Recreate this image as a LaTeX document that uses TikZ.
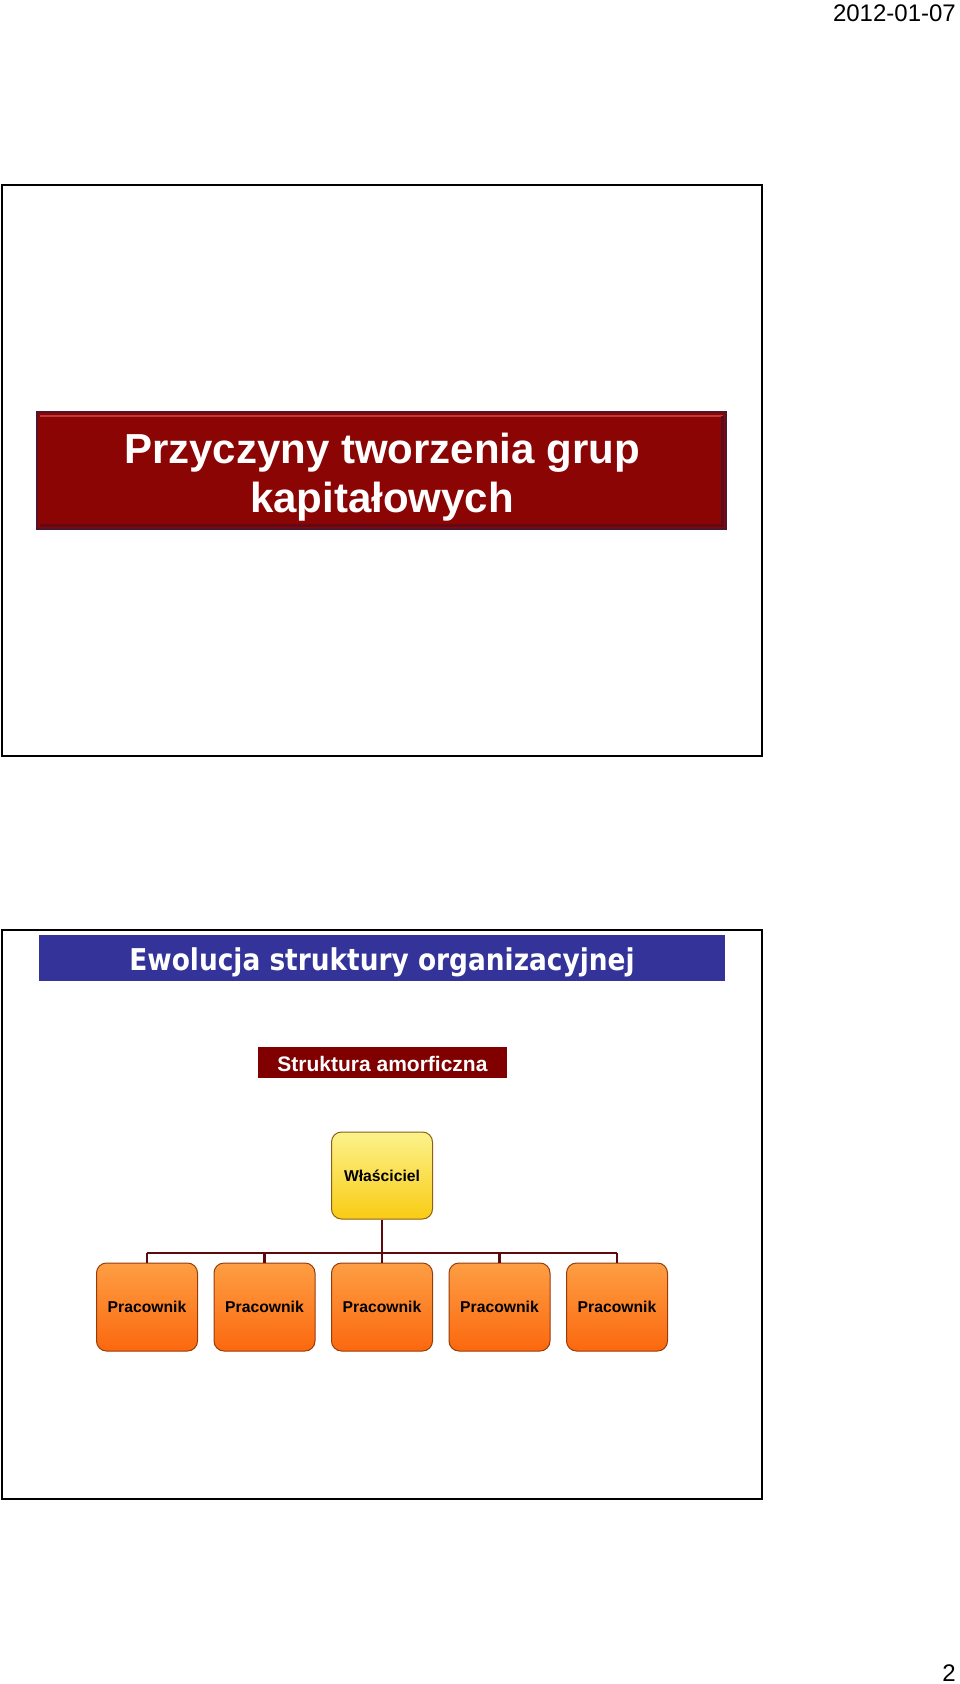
\documentclass[tikz,border=0pt]{standalone}
\usepackage{fontspec}
\setmainfont{Liberation Sans}
\newfontfamily\dvfont[FakeStretch=0.88]{DejaVu Sans}
\definecolor{titlered}{RGB}{140,5,5}
\definecolor{titleedge}{RGB}{80,20,45}
\definecolor{titlehi}{RGB}{195,55,55}
\definecolor{titledark}{RGB}{95,10,25}
\definecolor{barblue}{RGB}{51,51,153}
\definecolor{maroon}{RGB}{128,0,0}
\definecolor{connred}{RGB}{95,10,10}
\definecolor{ytop}{RGB}{252,242,140}
\definecolor{ybot}{RGB}{249,204,20}
\definecolor{yedge}{RGB}{140,95,20}
\definecolor{otop}{RGB}{253,158,68}
\definecolor{obot}{RGB}{252,104,14}
\definecolor{oedge}{RGB}{150,60,10}
\tikzset{
  slideframe/.style={draw=black,line width=2},
  titletext/.style={text=white,font=\bfseries\fontsize{42}{49}\selectfont,anchor=base,inner sep=0},
  ownerbox/.style={draw=yedge,line width=1,rounded corners=10,minimum width=101,minimum height=87,top color=ytop,bottom color=ybot,font=\bfseries\fontsize{15.7}{18}\selectfont,inner sep=0},
  workerbox/.style={draw=oedge,line width=1,rounded corners=10,minimum width=101,minimum height=88,top color=otop,bottom color=obot,font=\bfseries\fontsize{15.7}{18}\selectfont,inner sep=0},
  conn/.style={draw=connred,line width=2.8},
  smalltext/.style={font=\fontsize{24}{28}\selectfont,anchor=base east,inner sep=0}
}
\begin{document}
\begin{tikzpicture}[x=1pt,y=-1pt]
\useasboundingbox (0,0) rectangle (960,1684);
% header / footer
\node[smalltext] (date) at (956,21) {2012-01-07};
\node[smalltext] (page) at (956,1681) {2};
% slide 1
\draw[slideframe] (1.5,185) rectangle (762,756);
\fill[titlered] (37,412) rectangle (726,529);
\draw[titlehi,line width=2.5] (40,416) -- (723,416);
\draw[titledark,line width=2.5] (40,525.5) -- (722.5,525.5) -- (722.5,416);
\draw[titleedge,line width=1.5] (37,412) rectangle (726,529);
\node[titletext] (title1) at (382,463) {Przyczyny tworzenia grup};
\node[titletext] (title2) at (382,512) {kapitałowych};
% slide 2
\draw[slideframe] (1.5,930) rectangle (762,1499);
\fill[barblue] (39,935) rectangle (725,981);
\node[text=white,font=\dvfont\bfseries\fontsize{30}{34}\selectfont,anchor=base,inner sep=0] (head2) at (382,970) {Ewolucja struktury organizacyjnej};
\node[fill=maroon,minimum width=249,minimum height=31,inner sep=0] (amorfbox) at (382.5,1062.5) {};
\node[text=white,font=\bfseries\fontsize{21}{24}\selectfont,anchor=base,inner sep=0] (amorf) at (382.5,1071) {Struktura amorficzna};
\node[ownerbox] (owner) at (382,1175.5) {Właściciel};
\foreach \i/\x in {1/147,2/264.5,3/382,4/499.5,5/617}{
  \node[workerbox] (p\i) at (\x,1307) {Pracownik};
}
\coordinate (bus) at (382,1253);
\draw[conn] (owner.south) -- (owner.south |- bus);
\draw[conn] (p1.north |- bus) -- (p5.north |- bus);
\foreach \i in {1,...,5}{
  \draw[conn,line width=2.2] (p\i.north |- bus) -- (p\i.north);
}
\end{tikzpicture}
\end{document}
